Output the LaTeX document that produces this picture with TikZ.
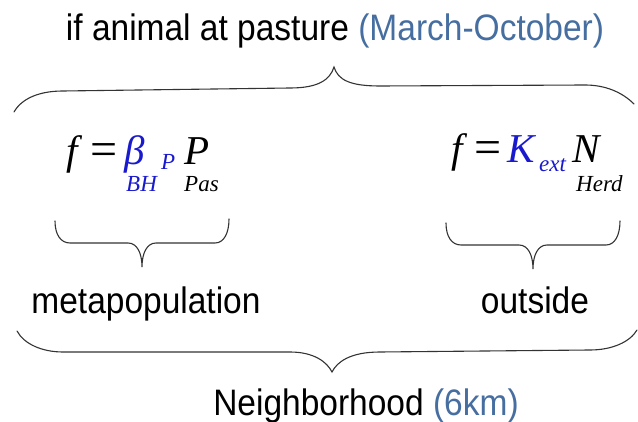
\documentclass[tikz,border=0pt]{standalone}
\usepackage{fontspec}
\setmainfont{Liberation Sans}
\newfontfamily\eqfont{Liberation Serif}
\definecolor{capblue}{RGB}{70,110,160}
\definecolor{eqblue}{RGB}{25,25,205}
\tikzset{
  lbl/.style={font=\fontsize{33.5}{40}\selectfont,anchor=base,inner sep=0pt,yscale=1.1},
  eq/.style={font=\eqfont\fontsize{41}{48}\selectfont\itshape,anchor=base west,inner sep=0pt},
  eqsign/.style={font=\eqfont\fontsize{48}{56}\selectfont,anchor=base west,inner sep=0pt},
  eqsub/.style={font=\eqfont\fontsize{23}{27}\selectfont\itshape,anchor=base west,inner sep=0pt},
  brace/.style={line width=1.1pt,black!80,line cap=round}
}
\begin{document}
\begin{tikzpicture}[x=1pt,y=-1pt]
\useasboundingbox (0,0) rectangle (638,422);
% labels
\node[lbl] (pasture) at (335,41) {if animal at pasture \textcolor{capblue}{(March-October)}};
\node[lbl] (meta) at (146,314) {metapopulation};
\node[lbl] (outside) at (535,314) {outside};
\node[lbl] (neigh) at (366,415) {Neighborhood \textcolor{capblue}{(6km)}};
% left formula
\node[eq] (f1) at (66,165) {f};
\node[eqsign] (eq1) at (90,166) {=};
\node[eq,eqblue] (beta) at (124,165) {β};
\node[eqsub,eqblue] (betap) at (161,170) {P};
\node[eqsub,eqblue] (bh) at (126,192) {BH};
\node[eq] (ppas) at (184,165) {P};
\node[eqsub] (pas) at (184,192) {Pas};
% right formula
\node[eq] (f2) at (451,163) {f};
\node[eqsign] (eq2) at (474,164) {=};
\node[eq,eqblue] (kext) at (507,163) {K};
\node[eqsub,eqblue] (ext) at (539,172) {ext};
\node[eq] (nherd) at (572,163) {N};
\node[eqsub] (herd) at (576,192) {Herd};
% braces
\draw[brace] (14,112) .. controls (22,98) and (40,91) .. (63,91) -- (290,88)
  .. controls (318,88) and (330,80) .. (334,67)
  .. controls (338,80) and (350,86) .. (380,86) -- (585,85)
  .. controls (605,85) and (622,92) .. (634,104);
\draw[brace] (17,331) .. controls (24,344) and (42,352) .. (63,352) -- (290,352)
  .. controls (314,352) and (327,362) .. (332,372)
  .. controls (337,362) and (350,352) .. (380,352) -- (590,350)
  .. controls (612,350) and (630,342) .. (637,330);
\foreach \x/\y in {55/221,446/223}{
  \draw[brace] (\x,\y) .. controls (\x,\y+14) and (\x+6,\y+22) .. (\x+15,\y+22) -- (\x+73,\y+22)
    .. controls (\x+82,\y+22) and (\x+87,\y+32) .. (\x+87,\y+46)
    .. controls (\x+87,\y+32) and (\x+92,\y+22) .. (\x+101,\y+22) -- (\x+160,\y+22)
    .. controls (\x+169,\y+22) and (\x+174,\y+12) .. (\x+174,\y-2);}
\end{tikzpicture}
\end{document}
